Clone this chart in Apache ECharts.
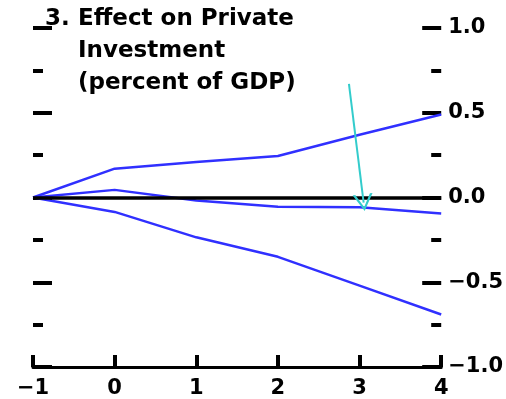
<!DOCTYPE html>
<html>
<head>
<meta charset="utf-8">
<script src="https://cdn.jsdelivr.net/npm/echarts@6/dist/echarts.min.js"></script>
<style>
html, body { margin: 0; padding: 0; background: #fff; }
#chart { width: 506px; height: 399px; }
</style>
</head>
<body>
<div id="chart"></div>
<script>
// years after the shock
var years = [-1, 0, 1, 2, 3, 4];
// effect on private investment, percent of GDP
var upperBand = [0, 0.17, 0.21, 0.245, 0.37, 0.49];
var pointEstimate = [0, 0.045, -0.018, -0.055, -0.058, -0.095];
var lowerBand = [0, -0.085, -0.235, -0.35, -0.52, -0.69];
// arrow annotation, [year, value]
var arrowFrom = [2.87, 0.67];
var arrowTo = [3.05, -0.03];

var FONT = "'DejaVu Sans', sans-serif";
var BLUE = '#3030ff';

function pairs(vals) {
	return years.map(function (x, i) { return [x, vals[i]]; });
}
function minus(s) {
	return String(s).replace('-', '\u2212');
}

var tickStyle = { color: '#000', width: 4 };
var titleStyle = { fontFamily: FONT, fontSize: 23, fontWeight: 'bold', color: '#000', lineHeight: 32 };

var yCommon = {
	type: 'value',
	min: -1,
	max: 1,
	interval: 0.5,
	axisLine: { show: false, onZero: false },
	axisTick: { show: true, inside: true, length: 19, lineStyle: tickStyle },
	minorTick: { show: true, splitNumber: 2, length: 10, lineStyle: tickStyle },
	splitLine: { show: false }
};

var chart = echarts.init(document.getElementById('chart'));
chart.setOption({
	animation: false,
	backgroundColor: '#fff',
	title: [{
		text: '3.',
		left: 45,
		top: 3,
		padding: 0,
		textStyle: titleStyle
	}, {
		text: 'Effect on Private\nInvestment\n(percent of GDP)',
		left: 78,
		top: 3,
		padding: 0,
		textStyle: titleStyle
	}],
	grid: { left: 33, right: 62, top: 28, bottom: 31 },
	xAxis: {
		type: 'value',
		min: -1,
		max: 4,
		interval: 1,
		axisLine: { show: true, onZero: false, lineStyle: { color: '#000', width: 3 } },
		axisTick: { show: true, inside: true, length: 12, lineStyle: { color: '#000', width: 4 } },
		axisLabel: { color: '#000', fontFamily: FONT, fontSize: 21, fontWeight: 'bold', margin: 11, formatter: minus },
		splitLine: { show: false }
	},
	yAxis: [
		Object.assign({}, yCommon, {
			position: 'right',
			axisLabel: {
				color: '#000', fontFamily: FONT, fontSize: 21, fontWeight: 'bold', margin: 7,
				formatter: function (v) { return minus(v.toFixed(1)); }
			}
		}),
		Object.assign({}, yCommon, {
			position: 'left',
			axisLabel: { show: false }
		})
	],
	series: [{
		type: 'line',
		data: pairs(upperBand),
		symbol: 'none',
		lineStyle: { color: BLUE, width: 2.5 },
		z: 3
	}, {
		type: 'line',
		data: pairs(pointEstimate),
		symbol: 'none',
		lineStyle: { color: BLUE, width: 2.5 },
		z: 3,
		markLine: {
			silent: true,
			symbol: 'none',
			label: { show: false },
			lineStyle: { color: '#000', width: 3.5, type: 'solid' },
			data: [{ yAxis: 0 }]
		}
	}, {
		type: 'line',
		data: pairs(lowerBand),
		symbol: 'none',
		lineStyle: { color: BLUE, width: 2.5 },
		z: 3,
		markLine: {
			silent: true,
			symbol: ['none', 'path://M5,0 L10,10 L8.7,10 L5,2.4 L1.3,10 L0,10 Z'],
			symbolSize: [20, 17],
			label: { show: false },
			lineStyle: { color: '#33cccc', width: 2, type: 'solid' },
			data: [[{ coord: arrowFrom }, { coord: arrowTo }]]
		}
	}]
});
</script>
</body>
</html>
